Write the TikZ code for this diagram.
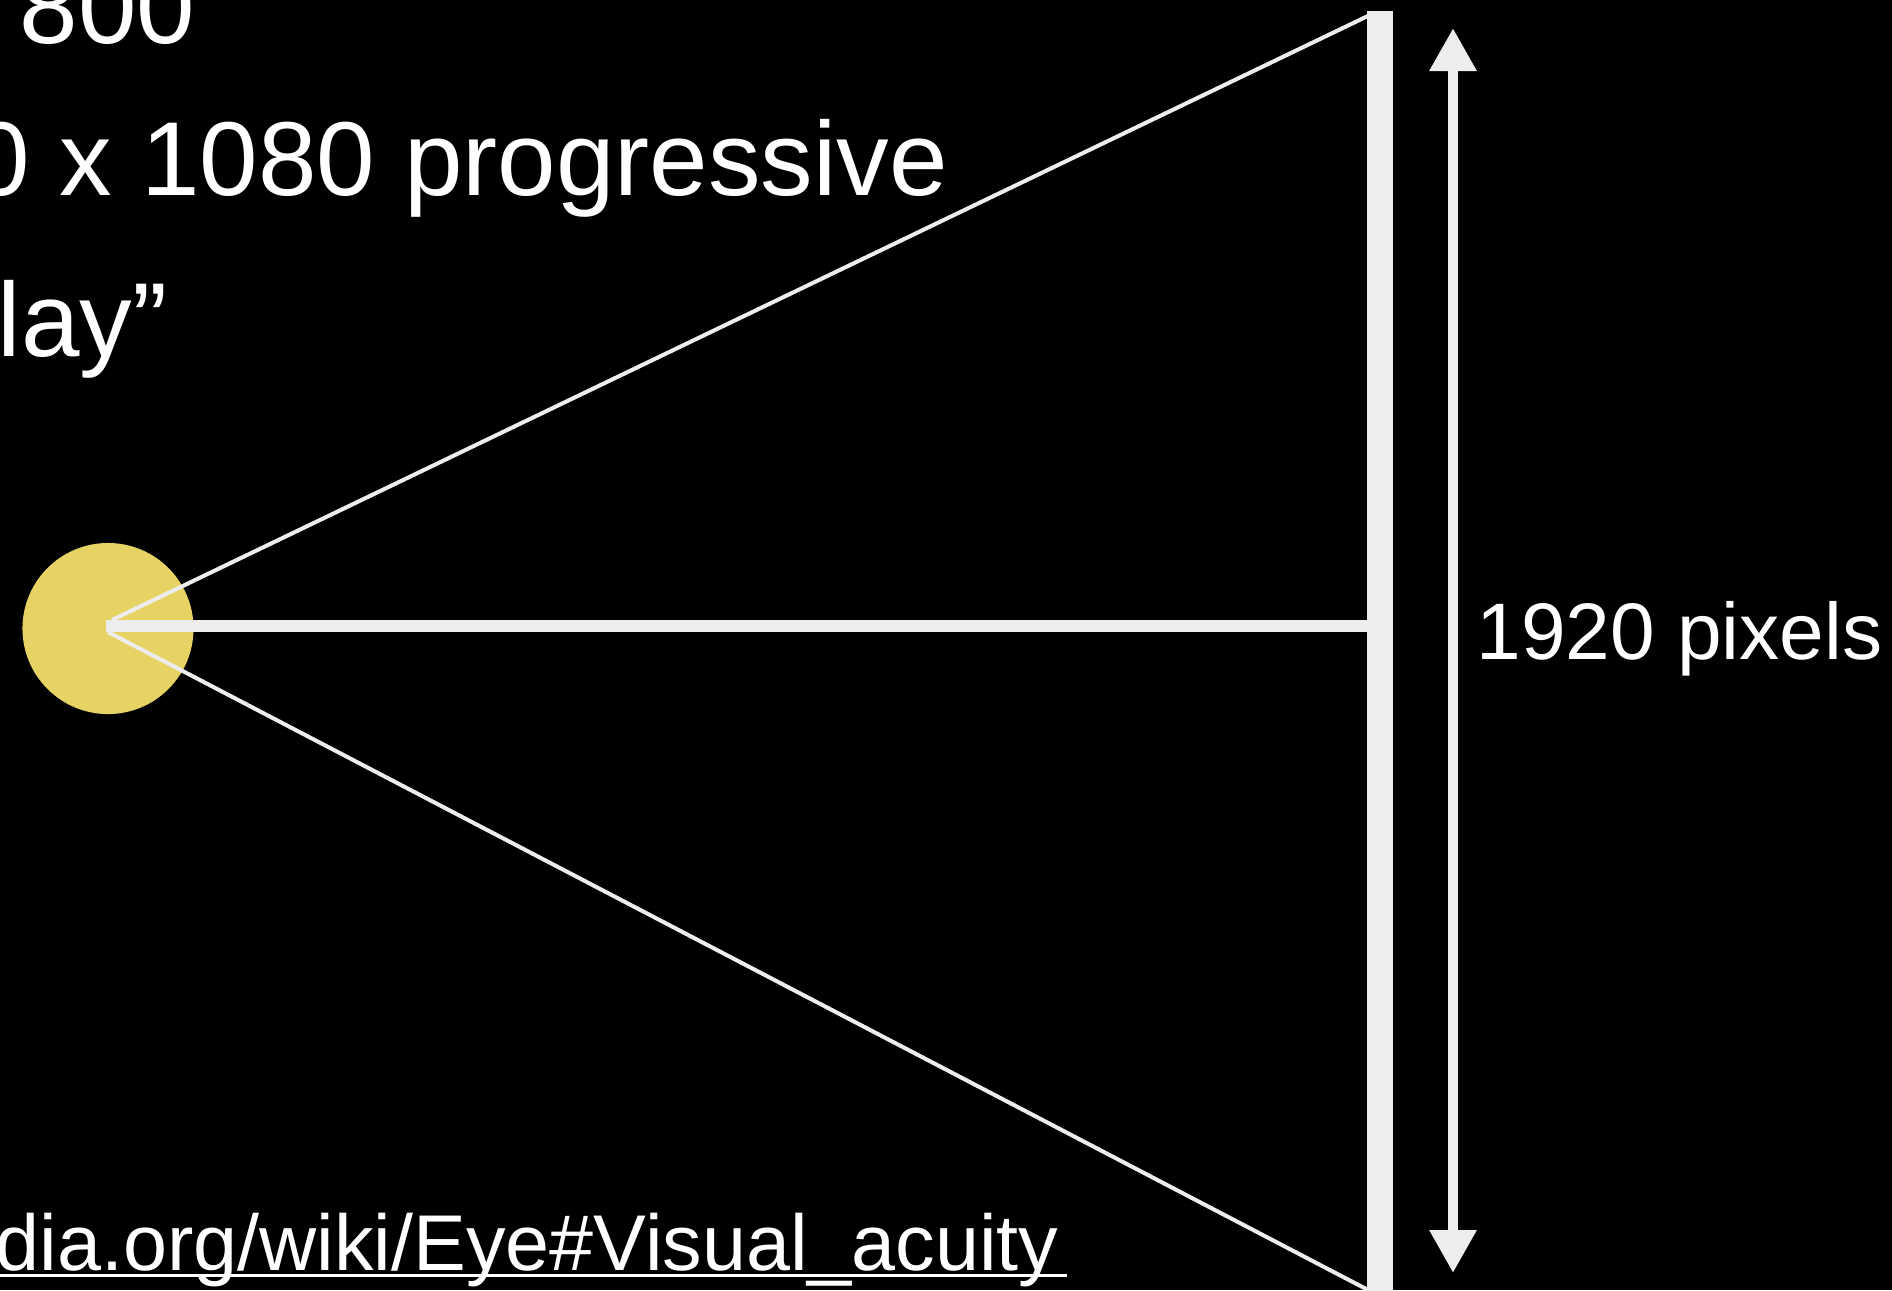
\documentclass[tikz,border=0pt]{standalone}
\usepackage{fontspec}
\setmainfont{Liberation Sans}
\usetikzlibrary{arrows.meta}

\definecolor{eyeyellow}{RGB}{230,211,99}
\definecolor{raygray}{RGB}{237,237,237}

\begin{document}
\begin{tikzpicture}[
    x=0.01cm, y=-0.01cm,
    slidetext/.style={text=white, inner sep=0pt, anchor=base west, font=\fontsize{29.9pt}{36pt}\selectfont},
    labeltext/.style={text=white, inner sep=0pt, anchor=base west, font=\fontsize{22.8pt}{27pt}\selectfont},
    linktext/.style={text=white, inner sep=0pt, anchor=base west, font=\fontsize{22.5pt}{27pt}\selectfont},
    eyeball/.style={circle, fill=eyeyellow, minimum size=1.71cm, inner sep=0pt},
    ray/.style={draw=raygray, line width=0.04cm},
    axisray/.style={draw=raygray, line width=0.12cm},
    screenbar/.style={draw=raygray, line width=0.26cm},
    sizearrow/.style={{Triangle[width=0.445cm,length=0.43cm]}-{Triangle[width=0.445cm,length=0.43cm]}, draw=raygray, fill=raygray, line width=0.106cm},
    underline/.style={draw=white, line width=0.03cm}
  ]

    % Slide background and frame
    \useasboundingbox (0,0) rectangle (1892,1290);
    \fill[black] (0,0) rectangle (1892,1290);
    \clip (0,0) rectangle (1892,1290);

    % Viewer
    \node[eyeball] (eye) at (108,628.5) {};

    % Rays from the eye to the screen
    \coordinate (axisstart) at (106,626);
    \coordinate (axisend) at (1386,626);
    \coordinate (focusup) at (112,620);
    \coordinate (focusdown) at (108,632);
    \coordinate (topedge) at (1372,14);
    \coordinate (botedge) at (1372,1292);
    \draw[axisray] (axisstart) -- (axisend);
    \draw[ray] (focusup) -- (topedge);
    \draw[ray] (focusdown) -- (botedge);

    % Screen
    \coordinate (screentop) at (1380,11);
    \coordinate (screenbot) at (1380,1300);
    \draw[screenbar] (screentop) -- (screenbot);

    % Screen height
    \coordinate (arrowtop) at (1453,28);
    \coordinate (arrowbot) at (1453,1273);
    \draw[sizearrow] (arrowtop) -- (arrowbot);
    \node[labeltext] (pixlabel) at (1476,659) {1920 pixels};

    % Slide text, cut at the left edge
    \node[slidetext] (prevline) at (19,43) {800};
    \node[slidetext] (resline) at (-29,195) {0 x 1080 progressive};
    \node[slidetext] (retinaline) at (-3,356) {lay”};

    % Source link
    \node[linktext] (sourcelink) at (-5,1270) {dia.org/wiki/Eye\#Visual\_acuity};
    \draw[underline] ([yshift=-0.055cm]sourcelink.base west) -- ([xshift=0.08cm, yshift=-0.055cm]sourcelink.base east);

  \end{tikzpicture}
\end{document}
